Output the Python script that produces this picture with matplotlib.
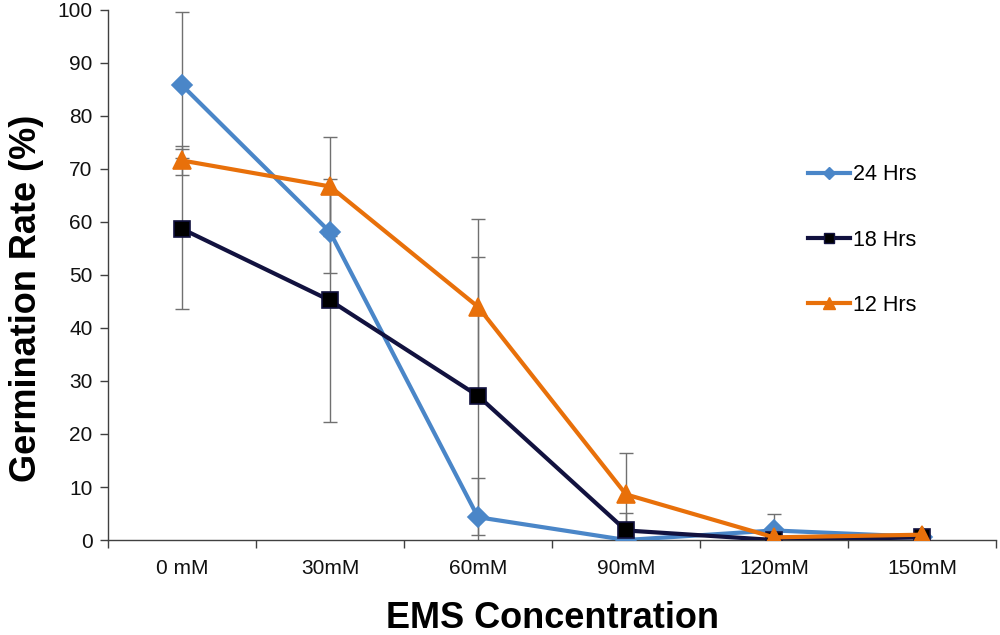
import matplotlib
matplotlib.use("Agg")
import matplotlib.pyplot as plt
from matplotlib.lines import Line2D
import numpy as np

plt.rcParams['font.family'] = ['Liberation Sans', 'DejaVu Sans']

categories = ["0 mM", "30mM", "60mM", "90mM", "120mM", "150mM"]
labels = ["24 Hrs", "18 Hrs", "12 Hrs"]
h24 = [85.8, 58.1, 4.3, 0.0, 1.8, 0.6]
h24_err = [13.8, 7.7, 7.4, 0.0, 3.2, 0.0]
h18 = [58.7, 45.2, 27.2, 1.8, 0.0, 0.5]
h18_err = [15.1, 23.0, 26.2, 3.3, 0.0, 0.0]
h12 = [71.6, 66.7, 44.0, 8.6, 0.5, 1.0]
h12_err = [2.7, 9.3, 16.6, 7.8, 0.0, 0.0]

colors = ["#4a86c8", "#12123f", "#e8700a"]
markers = ["D", "s", "^"]
msizes = [10, 11, 13]

fig = plt.figure(figsize=(10, 6.35), dpi=100)
ax = fig.add_axes([0.108, 0.1496, 0.888, 0.8347])
x = np.arange(len(categories))

series = [(h24, h24_err), (h18, h18_err), (h12, h12_err)]
for (vals, errs) in series:
    ax.errorbar(x, vals, yerr=errs, fmt='none', ecolor='#707070', elinewidth=1.0,
                capsize=5, capthick=1.0, zorder=1)
for (vals, errs), c, m, ms, lab in zip(series, colors, markers, msizes, labels):
    mec = c if m != "s" else "#12123f"
    mfc = c if m != "s" else "black"
    ax.plot(x, vals, color=c, lw=3, marker=m, markersize=ms,
            markerfacecolor=mfc, markeredgecolor=mec, markeredgewidth=1.2, zorder=3, label=lab)

ax.set_xlim(-0.5, len(categories) - 0.5)
ax.set_ylim(0, 100)
ax.set_yticks(np.arange(0, 101, 10))
ax.set_xticks(x)
ax.set_xticklabels(categories)
ax.set_xticks(np.arange(-0.5, len(categories), 1.0), minor=True)
ax.tick_params(axis='x', which='major', length=0, labelsize=15, pad=14, colors='#111111')
ax.tick_params(axis='x', which='minor', length=6, width=1, direction='out', color='#404040')
ax.tick_params(axis='y', length=6, width=1, direction='out', labelsize=15, color='#404040',
               labelcolor='#111111', pad=5)
for s in ['top', 'right']:
    ax.spines[s].set_visible(False)
for s in ['left', 'bottom']:
    ax.spines[s].set_color('#404040')
    ax.spines[s].set_linewidth(1)

ax.set_ylabel("Germination Rate (%)", fontsize=26, fontweight='bold')
ax.yaxis.set_label_coords(-0.072, 0.455)
ax.set_xlabel("EMS Concentration", fontsize=26, fontweight='bold', va='top')
ax.xaxis.set_label_coords(0.5, -0.115)

handles = [Line2D([0], [0], color=colors[0], lw=3, marker='D', markersize=6, markerfacecolor=colors[0], markeredgecolor=colors[0]),
           Line2D([0], [0], color=colors[1], lw=3, marker='s', markersize=7, markerfacecolor='black', markeredgecolor=colors[1]),
           Line2D([0], [0], color=colors[2], lw=3, marker='^', markersize=8, markerfacecolor=colors[2], markeredgecolor=colors[2])]
ax.legend(handles, labels, loc='center left', bbox_to_anchor=(0.788, 0.566), frameon=False,
          fontsize=15.5, labelspacing=2.05, handlelength=1.95, handletextpad=0.15,
          borderaxespad=0, borderpad=0)

fig.savefig("out.png", dpi=100)
